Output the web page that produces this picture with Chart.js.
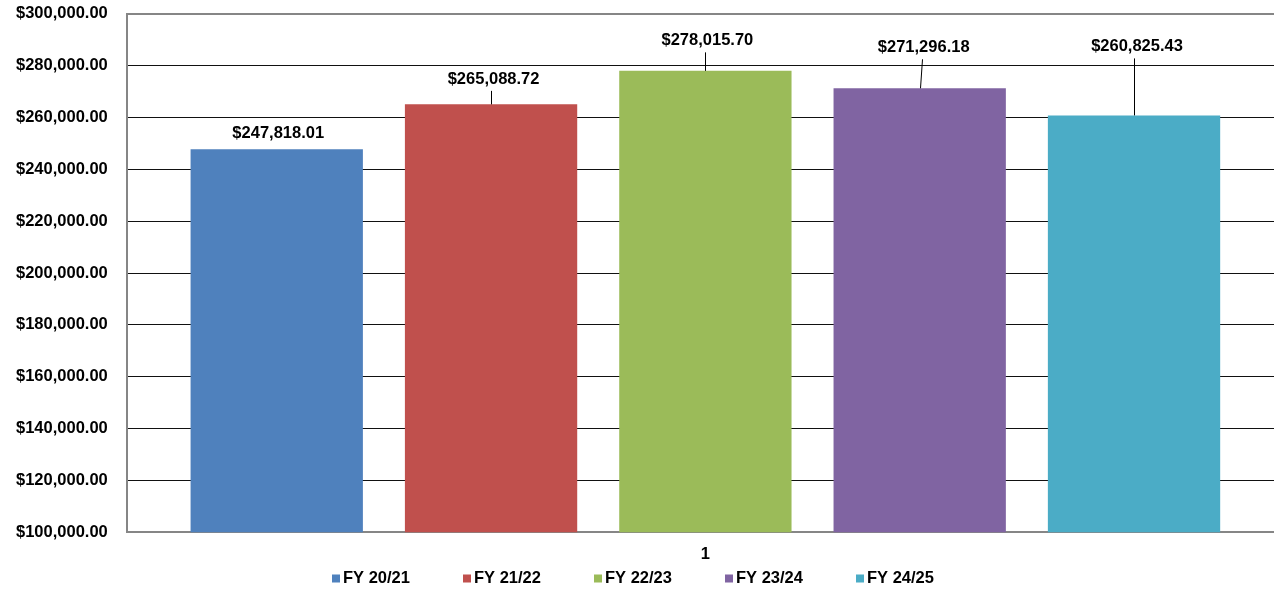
<!DOCTYPE html>
<html>
<head>
<meta charset="utf-8">
<title>FY comparison</title>
<script src="https://cdn.jsdelivr.net/npm/chart.js@4.4.1/dist/chart.umd.min.js"></script>
<style>
  html, body { margin: 0; padding: 0; background: #fff; overflow: hidden; }
  #wrap { width: 1274px; height: 590px; overflow: hidden; }
</style>
</head>
<body>
<div id="wrap">
  <canvas id="fyChart" width="1284" height="590"></canvas>
</div>
<script>
// Chart data
const categories = ["1"];
const seriesNames = ["FY 20/21", "FY 21/22", "FY 22/23", "FY 23/24", "FY 24/25"];
const seriesValues = [247818.01, 265088.72, 278015.70, 271296.18, 260825.43];
const seriesColors = ["#4F81BD", "#C0504D", "#9BBB59", "#8064A2", "#4BACC6"];
const yTicks = [100000, 120000, 140000, 160000, 180000, 200000, 220000, 240000, 260000, 280000, 300000];

const FONT = "'Liberation Sans', Arial, sans-serif";
const money = (v) =>
  "$" + v.toLocaleString("en-US", { minimumFractionDigits: 2, maximumFractionDigits: 2 });

/**
 * Value labels above each bar, some lifted with a leader line
 */
const barLabels = {
  id: "barLabels",
  afterDatasetsDraw(chart, args, opts) {
    const ctx = chart.ctx;
    ctx.save();
    ctx.font = `bold ${opts.size}px ${FONT}`;
    ctx.textAlign = "center";
    ctx.textBaseline = "middle";
    chart.data.datasets.forEach((ds, i) => {
      const bar = chart.getDatasetMeta(i).data[0];
      if (!bar) return;
      const lift = opts.lift[i];
      const lx = bar.x + opts.shift[i];
      const ly = bar.y - lift;
      if (lift > 20) {
        ctx.strokeStyle = "#000";
        ctx.lineWidth = 1;
        ctx.beginPath();
        ctx.moveTo(Math.round(bar.x) + 0.5, bar.y);
        ctx.lineTo(Math.round(bar.x + opts.lean[i]) + 0.5, ly + 11.5);
        ctx.stroke();
      }
      ctx.fillStyle = "#000";
      ctx.fillText(money(ds.data[0]), lx, ly);
    });
    ctx.restore();
  },
};

/**
 * Excel-like legend: small squares, one row under the axis
 */
const rowLegend = {
  id: "rowLegend",
  afterDraw(chart, args, opts) {
    const ctx = chart.ctx;
    ctx.save();
    ctx.font = `bold ${opts.size}px ${FONT}`;
    ctx.textBaseline = "middle";
    ctx.textAlign = "left";
    chart.data.datasets.forEach((ds, i) => {
      const x = opts.left + i * opts.step;
      ctx.fillStyle = ds.backgroundColor;
      ctx.fillRect(x, opts.y - 4, 8, 8);
      ctx.fillStyle = "#000";
      ctx.fillText(ds.label, x + 11, opts.y);
    });
    ctx.restore();
  },
};

const ctx = document.getElementById("fyChart").getContext("2d");
new Chart(ctx, {
  type: "bar",
  data: {
    labels: categories,
    datasets: seriesNames.map((name, i) => ({
      label: name,
      data: [seriesValues[i]],
      backgroundColor: seriesColors[i],
      borderWidth: 0,
      categoryPercentage: 0.926,
      barPercentage: 0.804,
    })),
  },
  plugins: [barLabels, rowLegend],
  options: {
    responsive: false,
    animation: false,
    devicePixelRatio: 1,
    layout: { padding: { left: 12, right: 0, top: 0, bottom: 14 } },
    plugins: {
      legend: { display: false },
      tooltip: { enabled: false },
      barLabels: {
        size: 16.5,
        lift: [16, 25, 30, 40.5, 68.5],
        shift: [1.5, 2.5, 2, 4, 3],
        lean: [0, 0, 0, 2, 0],
      },
      rowLegend: { size: 16.5, left: 332, step: 131, y: 578.5 },
    },
    scales: {
      x: {
        grid: { display: false, drawTicks: false },
        border: { display: true, color: "#868686", width: 2 },
        ticks: {
          color: "#000",
          padding: 12,
          font: { family: FONT, size: 16.5, weight: "bold" },
        },
      },
      y: {
        min: yTicks[0],
        max: yTicks[yTicks.length - 1],
        afterBuildTicks: (axis) => {
          axis.ticks = yTicks.map((v) => ({ value: v }));
        },
        grid: {
          drawTicks: true,
          tickLength: 15,
          tickColor: "rgba(0,0,0,0)",
          color: (c) =>
            c.tick && (c.tick.value === 300000 || c.tick.value === 100000) ? "#868686" : "#111",
          lineWidth: (c) =>
            c.tick && (c.tick.value === 300000 || c.tick.value === 100000) ? 2 : 1,
        },
        border: { display: true, color: "#868686", width: 2 },
        ticks: {
          color: "#000",
          padding: 4,
          font: { family: FONT, size: 16.5, weight: "bold" },
          callback: (v) => money(v),
        },
      },
    },
  },
});
</script>
</body>
</html>
